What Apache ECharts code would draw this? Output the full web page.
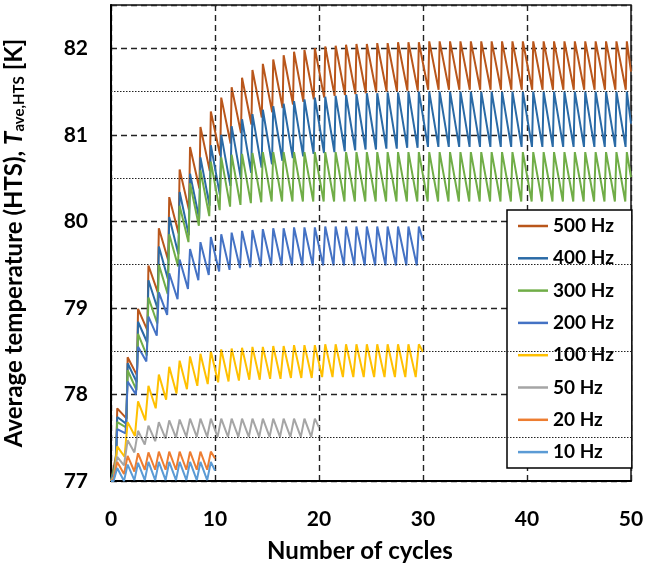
<!DOCTYPE html>
<html><head><meta charset="utf-8">
<script src="https://cdn.jsdelivr.net/npm/echarts@6/dist/echarts.min.js"></script>
<style>html,body{margin:0;padding:0;background:#fff}#c{width:645px;height:568px}</style>
</head><body><div id="c"></div>
<script>
// ---- data ----
const seriesNames = ['500 Hz','400 Hz','300 Hz','200 Hz','100 Hz','50 Hz','20 Hz','10 Hz'];
const xTicks = [0,10,20,30,40,50];
const yTicks = [77,78,79,80,81,82];
const minorY = [77.5,78.5,79.5,80.5,81.5];
const startValue = 77;

const peaks500 = [77.84,78.43,78.99,79.49,79.92,80.28,80.60,80.86,81.09,81.27,
  81.43,81.55,81.66,81.75,81.82,81.87,81.92,81.96,81.98,82.00,
  82.02,82.03,82.04,82.05,82.05,82.06,82.06,82.07,82.07,82.07,
  82.08,82.08,82.08,82.08,82.08,82.08,82.08,82.08,82.08,82.08,
  82.08,82.08,82.08,82.08,82.08,82.08,82.08,82.08,82.08,82.08];
const troughs500 = [77.30,77.72,78.22,78.74,79.18,79.55,79.86,80.13,80.38,80.58,
  80.76,80.90,81.02,81.12,81.20,81.26,81.31,81.35,81.38,81.41,
  81.43,81.45,81.46,81.47,81.48,81.49,81.50,81.50,81.51,81.51,
  81.52,81.52,81.52,81.52,81.52,81.52,81.52,81.52,81.52,81.52,
  81.52,81.52,81.52,81.52,81.52,81.52,81.52,81.52,81.52,81.52];

const peaks400 = [77.74,78.36,78.84,79.32,79.71,80.05,80.34,80.55,80.74,80.88,
  81.00,81.10,81.18,81.24,81.29,81.33,81.36,81.39,81.41,81.43,
  81.44,81.45,81.46,81.47,81.48,81.48,81.49,81.49,81.50,81.50,
  81.50,81.50,81.50,81.50,81.50,81.50,81.50,81.50,81.50,81.50,
  81.50,81.50,81.50,81.50,81.50,81.50,81.50,81.50,81.50,81.50];
const troughs400 = [77.24,77.66,78.14,78.60,78.99,79.33,79.62,79.84,80.03,80.18,
  80.30,80.41,80.50,80.56,80.62,80.66,80.70,80.73,80.75,80.78,
  80.79,80.80,80.81,80.82,80.83,80.83,80.84,80.84,80.85,80.85,
  80.86,80.86,80.86,80.86,80.86,80.86,80.86,80.86,80.86,80.86,
  80.86,80.86,80.86,80.86,80.86,80.86,80.86,80.86,80.86,80.86];

const peaks300 = [77.68,78.28,78.70,79.12,79.50,79.85,80.18,80.44,80.59,80.69,
  80.74,80.77,80.78,80.79,80.80,80.80,80.80,80.80,80.80,80.80,
  80.80,80.80,80.80,80.80,80.80,80.80,80.80,80.80,80.80,80.80,
  80.80,80.80,80.80,80.80,80.80,80.80,80.80,80.80,80.80,80.80,
  80.80,80.80,80.80,80.80,80.80,80.80,80.80,80.80,80.80,80.80];
const troughs300 = [77.20,77.62,78.05,78.45,78.82,79.16,79.48,79.76,79.95,80.06,
  80.13,80.17,80.19,80.21,80.22,80.23,80.23,80.23,80.23,80.23,
  80.23,80.23,80.23,80.23,80.23,80.23,80.23,80.23,80.23,80.23,
  80.23,80.23,80.23,80.23,80.23,80.23,80.23,80.23,80.23,80.23,
  80.23,80.23,80.23,80.23,80.23,80.23,80.23,80.23,80.23,80.23];

const peaks200 = [77.60,78.15,78.55,78.90,79.18,79.40,79.56,79.68,79.76,79.82,
  79.85,79.87,79.89,79.90,79.91,79.92,79.92,79.93,79.93,79.93,
  79.94,79.94,79.94,79.94,79.94,79.94,79.94,79.94,79.94,79.94];
const troughs200 = [77.12,77.55,78.00,78.38,78.68,78.92,79.10,79.22,79.32,79.38,
  79.42,79.44,79.46,79.47,79.48,79.49,79.49,79.49,79.49,79.49,
  79.49,79.49,79.49,79.49,79.49,79.49,79.49,79.49,79.49,79.49];

const peaks100 = [77.40,77.68,77.92,78.10,78.23,78.32,78.39,78.44,78.47,78.50,
  78.52,78.53,78.54,78.55,78.55,78.56,78.56,78.57,78.57,78.57,
  78.58,78.58,78.58,78.58,78.58,78.58,78.58,78.58,78.58,78.58];
const troughs100 = [77.05,77.28,77.52,77.70,77.84,77.94,78.01,78.06,78.10,78.12,
  78.14,78.15,78.16,78.17,78.17,78.18,78.18,78.19,78.19,78.19,
  78.20,78.20,78.20,78.20,78.20,78.20,78.20,78.20,78.20,78.20];

const peaks50 = [77.28,77.47,77.58,77.64,77.68,77.70,77.71,77.72,77.72,77.72,
  77.72,77.72,77.72,77.72,77.72,77.72,77.72,77.72,77.72,77.72];
const troughs50 = [77.03,77.18,77.33,77.42,77.46,77.49,77.50,77.51,77.51,77.51,
  77.51,77.51,77.51,77.51,77.51,77.51,77.51,77.51,77.51,77.51];

const peaks20 = [77.22,77.29,77.32,77.33,77.34,77.34,77.34,77.34,77.34,77.34];
const troughs20 = [77.02,77.08,77.11,77.13,77.13,77.13,77.13,77.13,77.13,77.13];

const peaks10 = [77.15,77.19,77.21,77.22,77.22,77.22,77.22,77.22,77.22,77.22];
const troughs10 = [77.00,77.00,77.01,77.01,77.01,77.01,77.01,77.01,77.01,77.01];

const endValues = [81.73,81.13,80.51,79.78,78.49,77.62,77.26,77.12];

// ---- styling ----
const colors = ['#B9561B','#2A6AA6','#70AD47','#4472C4','#FFC000','#A5A5A5','#ED7D31','#5B9BD5'];
const riseWidth = [0.1,0.12,0.15,0.2,0.3,0.35,0.35,0.35];
const PEAK_PHASE = 0.6;
const FONT = 'Lato';

const allPeaks = [peaks500,peaks400,peaks300,peaks200,peaks100,peaks50,peaks20,peaks10];
const allTroughs = [troughs500,troughs400,troughs300,troughs200,troughs100,troughs50,troughs20,troughs10];

function build(i){
  const p = allPeaks[i], t = allTroughs[i], r = riseWidth[i];
  const d = [[0, startValue]];
  for (let n = 0; n < p.length; n++){
    d.push([n + PEAK_PHASE - r, t[n]]);
    d.push([n + PEAK_PHASE, p[n]]);
  }
  d.push([p.length, endValues[i]]);
  return d;
}

const series = [{
  type:'line', name:'_grid', data:[], silent:true,
  markLine:{silent:true, symbol:['none','none'], label:{show:false},
    lineStyle:{type:[1.5,1.5], color:'#222', width:1.1},
    data: minorY.map(v=>({yAxis:v}))}
}];
seriesNames.forEach((nm,i)=>{
  series.push({type:'line', name:nm, data:build(i), showSymbol:false, symbol:'none',
    lineStyle:{width:2, color:colors[i]}, itemStyle:{color:colors[i]}, animation:false});
});

const chart = echarts.init(document.getElementById('c'), null, {renderer:'canvas'});
chart.setOption({
  animation:false,
  backgroundColor:'#fff',
  grid:{left:111, right:14, top:5, bottom:87, show:true, borderColor:'#111', borderWidth:1.5,
    backgroundColor:'transparent', containLabel:false, outerBoundsMode:'none'},
  xAxis:{type:'value', min:xTicks[0], max:xTicks[xTicks.length-1], interval:10,
    axisLine:{lineStyle:{color:'#000', width:2}}, axisTick:{show:false},
    axisLabel:{fontFamily:FONT, fontWeight:'bold', fontSize:21, color:'#000', margin:28},
    splitLine:{show:true, lineStyle:{color:'#222', width:1.4, type:[6,4]}},
    name:'Number of cycles', nameLocation:'middle', nameGap:58,
    nameTextStyle:{fontFamily:FONT, fontWeight:'bold', fontSize:24, color:'#000', padding:[0,22,0,0]}},
  yAxis:{type:'value', min:yTicks[0], max:82.5, interval:1,
    axisLine:{show:true, lineStyle:{color:'#000', width:2}}, axisTick:{show:false},
    axisLabel:{fontFamily:FONT, fontWeight:'bold', fontSize:21, color:'#000', margin:23,
      formatter:v=> (yTicks.indexOf(v) >= 0 ? String(v) : '')},
    splitLine:{show:true, lineStyle:{color:'#222', width:1.4, type:[6,4]}},
    name:'{a|Average temperature (HTS), }{i|T}{s|ave,HTS}{a| [K]}',
    nameLocation:'middle', nameGap:84, nameRotate:90,
    nameTextStyle:{rich:{
      a:{fontFamily:FONT, fontWeight:'bold', fontSize:24, color:'#000', lineHeight:26},
      i:{fontFamily:FONT, fontWeight:'bold', fontStyle:'italic', fontSize:24, color:'#000', lineHeight:26},
      s:{fontFamily:FONT, fontWeight:'bold', fontSize:15, color:'#000', lineHeight:26, verticalAlign:'bottom', padding:[7,0,0,0]}
    }}},
  legend:{data:seriesNames, orient:'vertical', left:507, top:210,
    padding:[6,18,6,11], itemGap:12.3, itemWidth:30, itemHeight:2.5, icon:'rect',
    borderColor:'#000', borderWidth:1.5, backgroundColor:'#fff',
    textStyle:{fontFamily:FONT, fontWeight:'bold', fontSize:19, color:'#000', lineHeight:20}},
  series:series
});
</script>
</body></html>
